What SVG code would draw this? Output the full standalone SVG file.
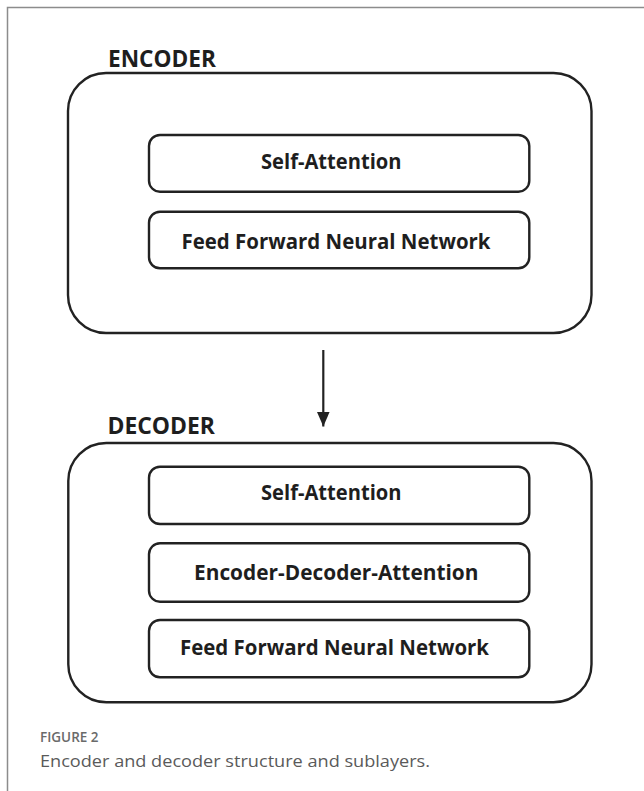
<svg xmlns="http://www.w3.org/2000/svg" width="644" height="791" viewBox="0 0 644 791">
  <style>
    .frame { fill: none; stroke: #8c8c8c; stroke-width: 1.5; }
    .outer { fill: #ffffff; stroke: #222222; stroke-width: 2.4; }
    .inner { fill: #ffffff; stroke: #222222; stroke-width: 2.4; }
    .title { font-family: "Open Sans", "Liberation Sans", sans-serif; font-weight: 700; font-size: 23px; fill: #1e1e1e; }
    .label { font-family: "Open Sans", "Liberation Sans", sans-serif; font-weight: 700; font-size: 21px; fill: #1e1e1e; }
    .cap-head { font-family: "Open Sans", "Liberation Sans", sans-serif; font-weight: 600; font-size: 13.5px; fill: #6a6a6a; }
    .cap-text { font-family: "Open Sans", "Liberation Sans", sans-serif; font-weight: 400; font-size: 17px; fill: #5a5a5a; }
    .link { fill: none; stroke: #222222; stroke-width: 2.2; }
  </style>
  <defs>
    <!-- arrowhead drawn along +x so orient="auto" turns it to the line direction -->
    <marker id="arrowhead" viewBox="0 0 15 13" refX="15" refY="6.5" markerWidth="15" markerHeight="13" markerUnits="userSpaceOnUse" orient="auto">
      <path d="M0,0 L15,6.5 L0,13 Z" fill="#222222"/>
    </marker>
  </defs>

  <rect width="644" height="791" fill="#ffffff"/>
  <!-- figure frame: top and left rules -->
  <path class="frame" d="M7.5,791 L7.5,7.5 L644,7.5"/>

  <!-- encoder block -->
  <g id="encoder">
    <text class="title" x="108" y="67" textLength="108" lengthAdjust="spacingAndGlyphs">ENCODER</text>
    <rect class="outer" x="68" y="73" width="523.5" height="260" rx="38" ry="38"/>
    <g id="enc-self-attention">
      <rect class="inner" x="149" y="135" width="380.3" height="56.7" rx="11" ry="11"/>
      <text class="label" x="261" y="168.5" textLength="140.5" lengthAdjust="spacingAndGlyphs">Self-Attention</text>
    </g>
    <g id="enc-ffnn">
      <rect class="inner" x="149" y="211.7" width="380.3" height="56.6" rx="11" ry="11"/>
      <text class="label" x="181.5" y="248.5" textLength="309" lengthAdjust="spacingAndGlyphs">Feed Forward Neural Network</text>
    </g>
  </g>

  <!-- decoder block -->
  <g id="decoder">
    <text class="title" x="107.5" y="434" textLength="107.5" lengthAdjust="spacingAndGlyphs">DECODER</text>
    <rect class="outer" x="68.3" y="443" width="523.2" height="259.3" rx="38" ry="38"/>
    <g id="dec-self-attention">
      <rect class="inner" x="149" y="466.7" width="380.3" height="57.3" rx="11" ry="11"/>
      <text class="label" x="261" y="500" textLength="140.5" lengthAdjust="spacingAndGlyphs">Self-Attention</text>
    </g>
    <g id="dec-enc-dec-attention">
      <rect class="inner" x="149" y="543.3" width="380.3" height="58.4" rx="11" ry="11"/>
      <text class="label" x="194" y="579.5" textLength="284.5" lengthAdjust="spacingAndGlyphs">Encoder-Decoder-Attention</text>
    </g>
    <g id="dec-ffnn">
      <rect class="inner" x="149" y="620" width="380.3" height="57.3" rx="11" ry="11"/>
      <text class="label" x="180" y="655" textLength="309" lengthAdjust="spacingAndGlyphs">Feed Forward Neural Network</text>
    </g>
  </g>

  <!-- connectors -->
  <g id="connectors">
    <line class="link" x1="323.3" y1="350" x2="323.3" y2="426.5" marker-end="url(#arrowhead)"/>
  </g>

  <!-- caption -->
  <g id="caption">
    <text class="cap-head" x="40" y="742">FIGURE 2</text>
    <text class="cap-text" x="40" y="767" textLength="390" lengthAdjust="spacingAndGlyphs">Encoder and decoder structure and sublayers.</text>
  </g>
</svg>
